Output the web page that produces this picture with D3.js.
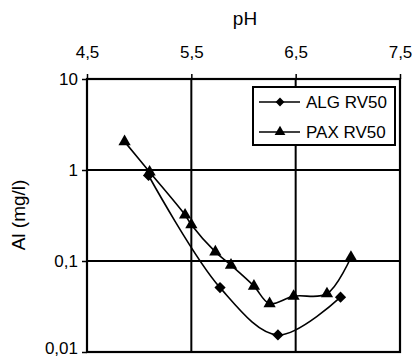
<!DOCTYPE html>
<html><head><meta charset="utf-8">
<script src="https://cdn.jsdelivr.net/npm/d3@7"></script>
<style>body{margin:0;background:#fff}svg{display:block;font-family:"Liberation Sans",Arial,sans-serif}</style>
</head><body>
<svg id="c" width="413" height="358"></svg>
<script>
const xTicks = [4.5, 5.5, 6.5, 7.5];
const xTickLabels = ["4,5", "5,5", "6,5", "7,5"];
const yTicks = [0.01, 0.1, 1, 10];
const yTickLabels = ["0,01", "0,1", "1", "10"];
const seriesNames = ["ALG RV50", "PAX RV50"];
const algPH = [5.09, 5.775, 6.33, 6.93];
const algAl = [0.87, 0.051, 0.0154, 0.040];
const paxPH = [4.86, 5.1, 5.44, 5.5, 5.73, 5.88, 6.10, 6.25, 6.48, 6.80, 7.03];
const paxAl = [2.05, 0.95, 0.32, 0.25, 0.126, 0.090, 0.053, 0.034, 0.041, 0.0436, 0.11];

const svg = d3.select("#c");
const L = 87, R = 400, T = 79, B = 352;
const x = d3.scaleLinear().domain([4.5, 7.5]).range([L, R]);
const y = d3.scaleLog().domain([0.01, 10]).range([B, T]);

// gridlines
svg.append("g").selectAll("line").data([5.5, 6.5]).join("line")
  .attr("x1", d => x(d)).attr("x2", d => x(d)).attr("y1", T).attr("y2", B)
  .attr("stroke", "#000").attr("stroke-width", 2);
svg.append("g").selectAll("line").data([0.1, 1]).join("line")
  .attr("x1", L).attr("x2", R).attr("y1", d => y(d)).attr("y2", d => y(d))
  .attr("stroke", "#000").attr("stroke-width", 2);

// axes
const xAxis = d3.axisTop(x).tickValues(xTicks).tickFormat((d, i) => xTickLabels[i]).tickSizeOuter(0).tickSize(5).tickPadding(16);
const gx = svg.append("g").attr("transform", `translate(0,${T})`).call(xAxis);
gx.select(".domain").remove();
gx.selectAll("text").attr("font-size", 17).attr("font-family", "Liberation Sans, Arial, sans-serif").attr("fill", "#000");
gx.selectAll("line").attr("stroke", "#000").attr("stroke-width", 1.5);

const yAxis = d3.axisLeft(y).tickValues(yTicks).tickFormat((d, i) => yTickLabels[i]).tickSizeOuter(0).tickSize(5).tickPadding(4);
const gy = svg.append("g").attr("transform", `translate(${L},0)`).call(yAxis);
gy.select(".domain").remove();
gy.selectAll("text").attr("font-size", 17).attr("font-family", "Liberation Sans, Arial, sans-serif").attr("fill", "#000");
gy.selectAll("line").attr("stroke", "#000").attr("stroke-width", 1.5);
gy.selectAll(".tick").filter(d => d === 0.01).select("text").attr("dy", "0.1em");

// frame
svg.append("rect").attr("x", L).attr("y", T).attr("width", R - L).attr("height", B - T)
  .attr("fill", "none").attr("stroke", "#000").attr("stroke-width", 2.2);

// titles
svg.append("text").attr("x", 245).attr("y", 25).attr("text-anchor", "middle")
  .attr("font-size", 19).text("pH");
svg.append("text").attr("transform", "translate(25,215) rotate(-90)").attr("text-anchor", "middle")
  .attr("font-size", 19).text("Al (mg/l)");

// series
const line = d3.line().x(d => x(d[0])).y(d => y(d[1])).curve(d3.curveCatmullRom.alpha(0.5));
const alg = algPH.map((p, i) => [p, algAl[i]]);
const pax = paxPH.map((p, i) => [p, paxAl[i]]);
svg.append("path").attr("d", line(alg)).attr("fill", "none").attr("stroke", "#000").attr("stroke-width", 1.6);
svg.append("path").attr("d", line(pax)).attr("fill", "none").attr("stroke", "#000").attr("stroke-width", 1.6);

const diamond = d3.symbol().type(d3.symbolDiamond2).size(80);
const tri = d3.symbol().type(d3.symbolTriangle).size(65);
svg.append("g").selectAll("path").data(alg).join("path")
  .attr("transform", d => `translate(${x(d[0])},${y(d[1])})`).attr("d", diamond).attr("fill", "#000");
svg.append("g").selectAll("path").data(pax).join("path")
  .attr("transform", d => `translate(${x(d[0])},${y(d[1])})`).attr("d", tri).attr("fill", "#000");

// legend
const lg = svg.append("g");
lg.append("rect").attr("x", 253).attr("y", 87).attr("width", 142).attr("height", 58)
  .attr("fill", "#fff").attr("stroke", "#000").attr("stroke-width", 2);
const rows = [102, 132];
const lsym = [d3.symbol().type(d3.symbolDiamond2).size(50), d3.symbol().type(d3.symbolTriangle).size(50)];
seriesNames.forEach((n, i) => {
  lg.append("line").attr("x1", 259).attr("x2", 300).attr("y1", rows[i]).attr("y2", rows[i])
    .attr("stroke", "#000").attr("stroke-width", 1.6);
  lg.append("path").attr("transform", `translate(280,${rows[i]})`).attr("d", lsym[i]).attr("fill", "#000");
  lg.append("text").attr("x", 306).attr("y", rows[i] + 6).attr("font-size", 17).text(n);
});
</script>
</body></html>
